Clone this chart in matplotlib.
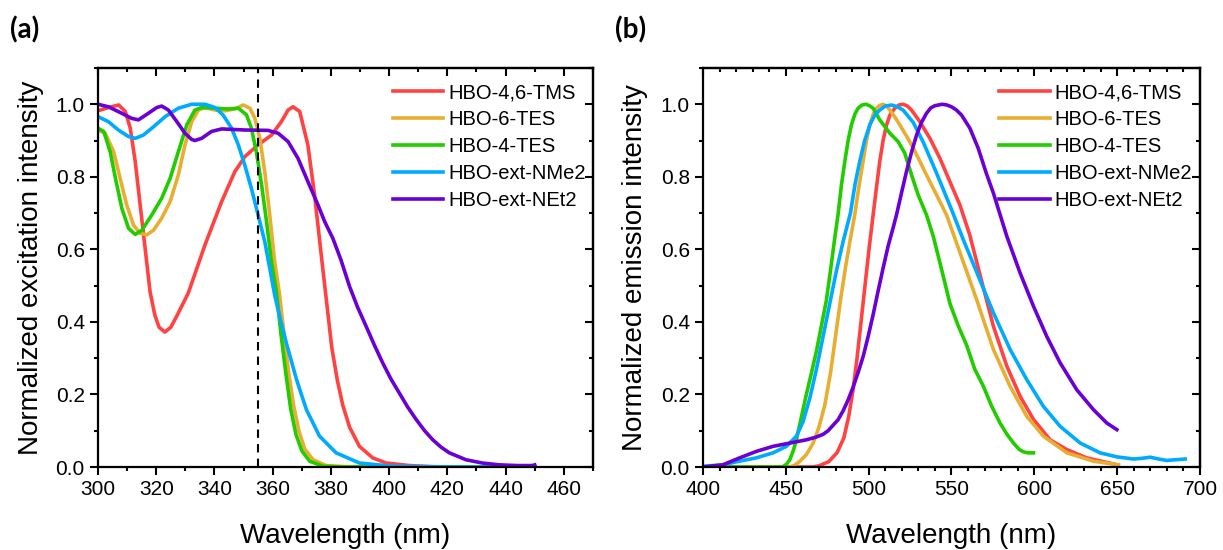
import matplotlib
matplotlib.use("Agg")
import matplotlib.pyplot as plt
from matplotlib.ticker import MultipleLocator

plt.rcParams["font.family"] = ["Liberation Sans", "DejaVu Sans"]

# legend names and colours
labels = ["HBO-4,6-TMS", "HBO-6-TES", "HBO-4-TES", "HBO-ext-NMe2", "HBO-ext-NEt2"]
colors = ["#FF4242", "#E8AE32", "#22CC00", "#00AAFF", "#6A00D6"]

# (a) excitation spectra
exc_wl_tms = [300, 303.6, 307.1, 309.4, 311.1, 312.8, 314.5, 316.2, 317.9, 319.5, 321, 323, 325, 327, 331,
              336.75, 342.5, 347, 350.5, 355, 359.6, 363, 365.3, 367, 369.3, 372.1, 374.4, 376.7, 378.6,
              380.3, 382.2, 384.1, 386.4, 389.8, 394.4, 399, 407, 415, 430, 450]
exc_tms = [0.982, 0.991, 0.998, 0.98, 0.934, 0.842, 0.722, 0.603, 0.483, 0.42, 0.385, 0.372, 0.385, 0.415,
           0.479, 0.612, 0.732, 0.814, 0.856, 0.888, 0.915, 0.952, 0.984, 0.993, 0.98, 0.888, 0.75, 0.584,
           0.45, 0.33, 0.24, 0.17, 0.11, 0.057, 0.025, 0.011, 0.004, 0.001, 0.0, 0.0]

exc_wl_6tes = [300, 302.5, 305.4, 307.6, 309.9, 312.2, 314.5, 316.8, 319.1, 321.9, 324.8, 327.6, 329.9, 332.2,
               334.5, 336.8, 340.2, 343.6, 347, 349.9, 352.2, 353.9, 355.6, 357.3, 359, 360.7, 362.4, 364,
               365.5, 367.2, 369, 371, 373.9, 378.4, 385, 400, 450]
exc_6tes = [0.929, 0.92, 0.869, 0.796, 0.722, 0.667, 0.644, 0.64, 0.653, 0.686, 0.732, 0.805, 0.888, 0.952,
            0.984, 0.991, 0.984, 0.982, 0.987, 0.998, 0.989, 0.961, 0.906, 0.814, 0.695, 0.566, 0.474, 0.36,
            0.26, 0.17, 0.1, 0.05, 0.02, 0.004, 0.001, 0.0, 0.0]

exc_wl_4tes = [300, 302, 304.2, 306, 308.2, 310.5, 312.8, 315.1, 318.5, 321.9, 324.8, 327.6, 330.5, 333.3,
               335.6, 340.2, 344.7, 348.2, 351, 352.7, 354.4, 356.2, 357.9, 359.6, 361.3, 362.8, 364.5, 366.2,
               368, 370, 372.7, 377.3, 385, 450]
exc_4tes = [0.934, 0.925, 0.869, 0.796, 0.713, 0.658, 0.641, 0.653, 0.695, 0.741, 0.796, 0.869, 0.943, 0.984,
            0.991, 0.989, 0.987, 0.989, 0.971, 0.934, 0.869, 0.778, 0.676, 0.566, 0.483, 0.37, 0.26, 0.16,
            0.09, 0.045, 0.016, 0.002, 0.0, 0.0]

exc_wl_nme2 = [300, 303.6, 307, 310.5, 312.8, 315.6, 319.1, 323.1, 327.6, 332.2, 336.8, 340.2, 343, 345.9,
               348.2, 350.4, 352.7, 355, 357.3, 359, 360.7, 362.7, 364.7, 368.2, 371.6, 376.1, 381.8, 389.8,
               401.3, 420, 450]
exc_nme2 = [0.966, 0.952, 0.929, 0.911, 0.906, 0.915, 0.938, 0.966, 0.989, 1.0, 1.0, 0.991, 0.97, 0.934,
            0.888, 0.833, 0.768, 0.695, 0.621, 0.548, 0.474, 0.405, 0.342, 0.241, 0.158, 0.085, 0.039, 0.011,
            0.002, 0.0, 0.0]

exc_wl_net2 = [300, 303.6, 308.2, 311.6, 313.9, 317.3, 320.2, 321.9, 324.2, 327.1, 329.9, 332.2, 333.3, 335.6,
               339, 342.5, 350.5, 358.4, 361.9, 365.3, 368.7, 372.1, 375.6, 377.9, 380.7, 383.5, 386.4, 389.2,
               392.1, 395, 397.8, 400.6, 403.5, 406.4, 409.3, 412.2, 415, 417.8, 420.7, 426.4, 432, 437.8,
               444, 449.2, 450]
exc_net2 = [1.0, 0.993, 0.975, 0.961, 0.957, 0.975, 0.991, 0.995, 0.984, 0.952, 0.92, 0.903, 0.9, 0.906,
            0.925, 0.932, 0.929, 0.928, 0.92, 0.897, 0.851, 0.787, 0.722, 0.676, 0.63, 0.57, 0.498, 0.44,
            0.388, 0.335, 0.287, 0.243, 0.204, 0.165, 0.131, 0.1, 0.075, 0.055, 0.039, 0.02, 0.011, 0.006,
            0.004, 0.004, 0.006]

exc_marker = 355

# (b) emission spectra
em_wl_tms = [400, 466, 470, 476, 481, 485, 488, 490.5, 493, 495.4, 497.8, 500.2, 502.7, 504.7, 506.7, 508.7,
             510.8, 513, 515.8, 518.3, 520.8, 523.4, 525.9, 530.9, 537, 543, 549, 555.1, 561, 567.2, 575.3,
             583.4, 591.4, 599.5, 609.5, 619.6, 631.7, 650]
em_tms = [0.0, 0.0, 0.003, 0.015, 0.04, 0.08, 0.14, 0.21, 0.3, 0.4, 0.5, 0.6, 0.695, 0.77, 0.842, 0.9,
          0.943, 0.972, 0.989, 0.998, 1.0, 0.995, 0.984, 0.952, 0.906, 0.851, 0.787, 0.722, 0.64, 0.53, 0.388,
          0.278, 0.195, 0.131, 0.075, 0.048, 0.025, 0.006]

em_wl_6tes = [400, 452, 455, 458.4, 462.5, 466.5, 470, 473.5, 477, 480, 483, 486, 489, 491.6, 494, 496.6,
              498.7, 500.7, 502.7, 504.7, 506.7, 508.7, 510.8, 512.8, 515.8, 518.8, 522.9, 526.9, 530.9,
              534.9, 541, 547, 555.2, 565.2, 575.3, 585.4, 595.4, 605.5, 619.6, 635.7, 650.8]
em_6tes = [0.0, 0.0, 0.004, 0.015, 0.035, 0.066, 0.11, 0.17, 0.26, 0.36, 0.46, 0.55, 0.63, 0.695, 0.77,
           0.842, 0.9, 0.943, 0.972, 0.989, 0.997, 1.0, 0.995, 0.984, 0.965, 0.943, 0.912, 0.879, 0.843,
           0.805, 0.75, 0.695, 0.59, 0.461, 0.324, 0.222, 0.14, 0.085, 0.039, 0.016, 0.006]

em_wl_4tes = [400, 448, 450.5, 452.4, 454.5, 456.4, 459.5, 462.4, 465.5, 468.5, 471.5, 474.5, 477.5, 479.5,
              481.5, 483.5, 485.6, 487.6, 489.6, 491.6, 493.6, 496, 498.3, 500.5, 502.7, 506.7, 512.8, 517.8,
              521.8, 525.9, 529.9, 534.9, 539, 544, 549.1, 554, 559.2, 564, 569.3, 574, 579.3, 583.5, 587.4,
              591, 593.4, 596, 599.5]
em_4tes = [0.0, 0.0, 0.008, 0.02, 0.045, 0.075, 0.14, 0.2, 0.26, 0.32, 0.39, 0.46, 0.56, 0.63, 0.695, 0.775,
           0.842, 0.9, 0.943, 0.972, 0.989, 0.998, 1.0, 0.996, 0.989, 0.957, 0.92, 0.897, 0.865, 0.805, 0.75,
           0.695, 0.636, 0.545, 0.45, 0.39, 0.335, 0.27, 0.222, 0.17, 0.121, 0.09, 0.066, 0.048, 0.042, 0.039,
           0.039]

em_wl_nme2 = [400, 412, 422, 432, 442.3, 450.4, 456.4, 460.4, 464.5, 468.5, 472.5, 476.5, 480.5, 484.5, 489,
              491.8, 494.6, 497.6, 500.7, 503.7, 506.7, 510, 513.8, 517.3, 520.8, 526.9, 533, 541, 550, 557.1,
              567.2, 575.3, 585.4, 595.4, 605.5, 615.6, 627.7, 639.7, 649.8, 659.9, 665, 670, 675, 680, 685,
              691.1]
em_nme2 = [0.002, 0.006, 0.016, 0.025, 0.039, 0.057, 0.085, 0.125, 0.19, 0.27, 0.36, 0.45, 0.54, 0.62, 0.7,
           0.78, 0.842, 0.9, 0.943, 0.97, 0.984, 0.995, 0.998, 0.993, 0.984, 0.95, 0.895, 0.81, 0.71, 0.627,
           0.515, 0.425, 0.324, 0.241, 0.167, 0.112, 0.066, 0.039, 0.028, 0.022, 0.024, 0.027, 0.022, 0.018,
           0.02, 0.022]

em_wl_net2 = [400, 412, 422, 432.2, 442.3, 452.4, 462.4, 468, 472.5, 475.5, 478.5, 481.5, 484.6, 487.6, 490.6,
              493.6, 496.7, 499.7, 502.7, 505.7, 508.8, 511.8, 514.8, 516.8, 519.8, 522.8, 525.9, 528.9, 531.9,
              534.9, 537.5, 540, 544.4, 547.2, 550, 553, 556.1, 561.1, 566.1, 571, 575.3, 583.4, 591.4, 599.5,
              607.5, 615.6, 625.6, 635.7, 643.8, 649.8]
em_net2 = [0.0, 0.006, 0.025, 0.043, 0.057, 0.066, 0.075, 0.082, 0.09, 0.1, 0.115, 0.13, 0.155, 0.185, 0.22,
           0.26, 0.305, 0.36, 0.42, 0.485, 0.55, 0.61, 0.66, 0.695, 0.755, 0.814, 0.868, 0.915, 0.95, 0.975,
           0.99, 0.996, 1.0, 0.998, 0.993, 0.984, 0.97, 0.934, 0.879, 0.81, 0.755, 0.636, 0.535, 0.443, 0.36,
           0.287, 0.213, 0.158, 0.121, 0.103]

exc_x = [exc_wl_tms, exc_wl_6tes, exc_wl_4tes, exc_wl_nme2, exc_wl_net2]
exc_y = [exc_tms, exc_6tes, exc_4tes, exc_nme2, exc_net2]
em_x = [em_wl_tms, em_wl_6tes, em_wl_4tes, em_wl_nme2, em_wl_net2]
em_y = [em_tms, em_6tes, em_4tes, em_nme2, em_net2]

fig = plt.figure(figsize=(12.23, 5.5), dpi=100)
ax1 = fig.add_axes([0.0801, 0.1509, 0.4047, 0.7255])
ax2 = fig.add_axes([0.5748, 0.1509, 0.4064, 0.7255])


def style_axis(ax, xmaj, xmin):
    ax.xaxis.set_major_locator(MultipleLocator(xmaj))
    ax.xaxis.set_minor_locator(MultipleLocator(xmin))
    ax.yaxis.set_major_locator(MultipleLocator(0.2))
    ax.yaxis.set_minor_locator(MultipleLocator(0.1))
    ax.yaxis.set_major_formatter(lambda v, p: f"{v:.1f}")
    for s in ax.spines.values():
        s.set_linewidth(1.6)
    ax.tick_params(which="major", direction="out", length=5.5, width=1.5, labelsize=15, pad=4)
    ax.tick_params(which="minor", direction="out", length=3, width=1.5)
    # mirrored ticks on top and right, pointing inward
    top = ax.secondary_xaxis("top")
    top.xaxis.set_major_locator(MultipleLocator(xmaj))
    top.xaxis.set_minor_locator(MultipleLocator(xmin))
    top.tick_params(which="major", direction="in", length=5.5, width=1.5, labeltop=False)
    top.tick_params(which="minor", direction="in", length=3, width=1.5)
    right = ax.secondary_yaxis("right")
    right.yaxis.set_major_locator(MultipleLocator(0.2))
    right.yaxis.set_minor_locator(MultipleLocator(0.1))
    right.tick_params(which="major", direction="in", length=5.5, width=1.5, labelright=False)
    right.tick_params(which="minor", direction="in", length=3, width=1.5)
    for s in list(top.spines.values()) + list(right.spines.values()):
        s.set_linewidth(1.6)


for x, y, c, lab in zip(exc_x, exc_y, colors, labels):
    ax1.plot(x, y, color=c, lw=2.6, label=lab, solid_joinstyle="round")
ax1.axvline(exc_marker, color="black", lw=1.5, ls=(0, (4, 3)))
ax1.set_xlim(300, 470)
ax1.set_ylim(0, 1.1)
style_axis(ax1, 20, 10)
ax1.set_xlabel("Wavelength (nm)", fontsize=20)
ax1.set_ylabel("Normalized excitation intensity", fontsize=20)
ax1.xaxis.set_label_coords(0.5, -0.14)
ax1.yaxis.set_label_coords(-0.11, 0.5)

for x, y, c, lab in zip(em_x, em_y, colors, labels):
    ax2.plot(x, y, color=c, lw=2.6, label=lab, solid_joinstyle="round")
ax2.set_xlim(400, 700)
ax2.set_ylim(0, 1.1)
style_axis(ax2, 50, 10)
ax2.set_xlabel("Wavelength (nm)", fontsize=20)
ax2.set_ylabel("Normalized emission intensity", fontsize=20)
ax2.xaxis.set_label_coords(0.5, -0.14)
ax2.yaxis.set_label_coords(-0.11, 0.5)

for ax in (ax1, ax2):
    ax.legend(loc="upper left", bbox_to_anchor=(0.596, 0.962), frameon=False, fontsize=14.5,
              handlelength=2.5, handletextpad=0.25, labelspacing=0.4, borderpad=0, borderaxespad=0)

fig.text(0.008, 0.945, "(a)", fontsize=20, fontweight="bold", family=["Lato", "DejaVu Sans"], va="center")
fig.text(0.503, 0.945, "(b)", fontsize=20, fontweight="bold", family=["Lato", "DejaVu Sans"], va="center")

plt.savefig("out.png", dpi=100)
